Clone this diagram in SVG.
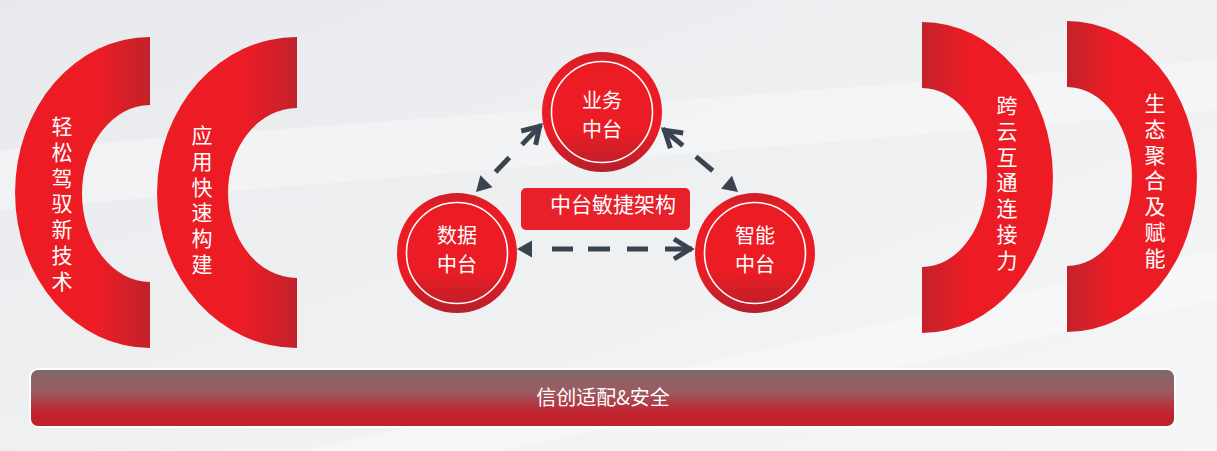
<svg xmlns="http://www.w3.org/2000/svg" width="1217" height="451" viewBox="0 0 1217 451">
<style>
  text { font-family: "Noto Sans CJK SC", "Noto Sans", sans-serif; fill: #ffffff; }
  .v { font-size: 21px; writing-mode: vertical-rl; text-orientation: upright; letter-spacing: 4.8px; text-anchor: start; }
  .c { font-size: 20px; text-anchor: middle; dominant-baseline: central; }
  .box { font-size: 21px; text-anchor: middle; dominant-baseline: central; }
  .lbl { font-size: 20px; text-anchor: middle; dominant-baseline: central; }
  .ring { fill: none; stroke: #ffffff; stroke-width: 1.6; }
  .conn { fill: none; stroke: #3a4350; stroke-width: 5; }
</style>
<defs>
  <linearGradient id="bg" x1="0" y1="0" x2="1" y2="1">
    <stop offset="0" stop-color="#e7e9ec"/>
    <stop offset="0.5" stop-color="#eef0f2"/>
    <stop offset="1" stop-color="#f5f6f8"/>
  </linearGradient>
  <linearGradient id="gL" x1="0" y1="0" x2="1" y2="0">
    <stop offset="0" stop-color="#ed1c24"/>
    <stop offset="0.6" stop-color="#ed1c24"/>
    <stop offset="1" stop-color="#c2222b"/>
  </linearGradient>
  <linearGradient id="gR" x1="0" y1="0" x2="1" y2="0">
    <stop offset="0" stop-color="#c2222b"/>
    <stop offset="0.35" stop-color="#ed1c24"/>
    <stop offset="1" stop-color="#ed1c24"/>
  </linearGradient>
  <linearGradient id="gC" x1="0" y1="0" x2="0" y2="1">
    <stop offset="0" stop-color="#cf1f29"/>
    <stop offset="0.15" stop-color="#ec1c24"/>
    <stop offset="0.65" stop-color="#ec1c24"/>
    <stop offset="1" stop-color="#b5202b"/>
  </linearGradient>
  <linearGradient id="gBar" x1="0" y1="0" x2="0" y2="1">
    <stop offset="0" stop-color="#7e6a6c"/>
    <stop offset="0.4" stop-color="#9c5a60"/>
    <stop offset="0.75" stop-color="#c0232d"/>
    <stop offset="1" stop-color="#c0222c"/>
  </linearGradient>
  <marker id="chev" markerUnits="userSpaceOnUse" markerWidth="40" markerHeight="40" refX="0" refY="0" viewBox="-25 -20 40 40" orient="auto" overflow="visible">
    <path d="M-18,-10 L-2,0 L-18,10" fill="none" stroke="#3a4350" stroke-width="5" stroke-linejoin="miter" stroke-dasharray="none"/>
  </marker>
  <marker id="tri" markerUnits="userSpaceOnUse" markerWidth="40" markerHeight="40" refX="0" refY="0" viewBox="-25 -20 40 40" orient="auto-start-reverse" overflow="visible">
    <path d="M0,0 L-15,-8.5 L-15,8.5 Z" fill="#3a4350" stroke="none"/>
  </marker>
</defs>

<rect x="0" y="0" width="1217" height="451" fill="url(#bg)"/>
<g id="background-streaks" fill="#ffffff" opacity="0.35">
  <polygon points="0,150 1217,60 1217,110 0,210"/>
  <polygon points="300,451 1217,250 1217,300 500,451"/>
</g>

<g id="arc-left-1">
  <path d="M150,37 A135,155.5 0 0 0 150,348 L150,282 A68,88.5 0 0 1 150,105 Z" fill="url(#gL)"/>
  <text class="v" x="62" y="115.5">轻松驾驭新技术</text>
</g>
<g id="arc-left-2">
  <path d="M297,37 A140,155.5 0 0 0 297,348 L297,278 A69,85 0 0 1 297,108 Z" fill="url(#gL)"/>
  <text class="v" x="202" y="124.5">应用快速构建</text>
</g>
<g id="arc-right-1">
  <path d="M922,22 A131,155.5 0 0 1 922,333 L922,267 A65,89.5 0 0 0 922,88 Z" fill="url(#gR)"/>
  <text class="v" x="1007" y="94.5">跨云互通连接力</text>
</g>
<g id="arc-right-2">
  <path d="M1067,21 A130,155.5 0 0 1 1067,332 L1067,266 A65,89.5 0 0 0 1067,87 Z" fill="url(#gR)"/>
  <text class="v" x="1155" y="92.5">生态聚合及赋能</text>
</g>

<g id="connectors">
  <path class="conn" d="M476,192 L541,125" stroke-dasharray="0 28 20 18 28" marker-start="url(#tri)" marker-end="url(#chev)"/>
  <path class="conn" d="M738,192 L663,129" stroke-dasharray="0 33 22 17 26" marker-start="url(#tri)" marker-end="url(#chev)"/>
  <path class="conn" d="M517,249 L692,249" stroke-dasharray="0 35 21 15 22 17 21 17 27" marker-start="url(#tri)" marker-end="url(#chev)"/>
</g>

<g id="node-yewu">
  <circle cx="602" cy="112" r="60" fill="url(#gC)"/>
  <circle class="ring" cx="602" cy="112" r="50.5"/>
  <text class="c" x="602" y="99.5">业务</text>
  <text class="c" x="602" y="128.5">中台</text>
</g>
<g id="node-shuju">
  <circle cx="457" cy="253" r="60" fill="url(#gC)"/>
  <circle class="ring" cx="457" cy="253" r="50.5"/>
  <text class="c" x="457" y="234.5">数据</text>
  <text class="c" x="457" y="263.5">中台</text>
</g>
<g id="node-zhineng">
  <circle cx="755" cy="253" r="60" fill="url(#gC)"/>
  <circle class="ring" cx="755" cy="253" r="50.5"/>
  <text class="c" x="755" y="234.5">智能</text>
  <text class="c" x="755" y="263.5">中台</text>
</g>

<g id="label-agile">
  <rect x="521" y="188" width="169" height="42" rx="5" fill="#e8202a"/>
  <text class="box" x="613" y="203">中台敏捷架构</text>
</g>

<g id="bar-xinchuang">
  <rect x="30" y="369" width="1145" height="58" rx="8" fill="url(#gBar)" stroke="#ffffff" stroke-width="2"/>
  <text class="lbl" x="603" y="396">信创适配&amp;安全</text>
</g>
</svg>
